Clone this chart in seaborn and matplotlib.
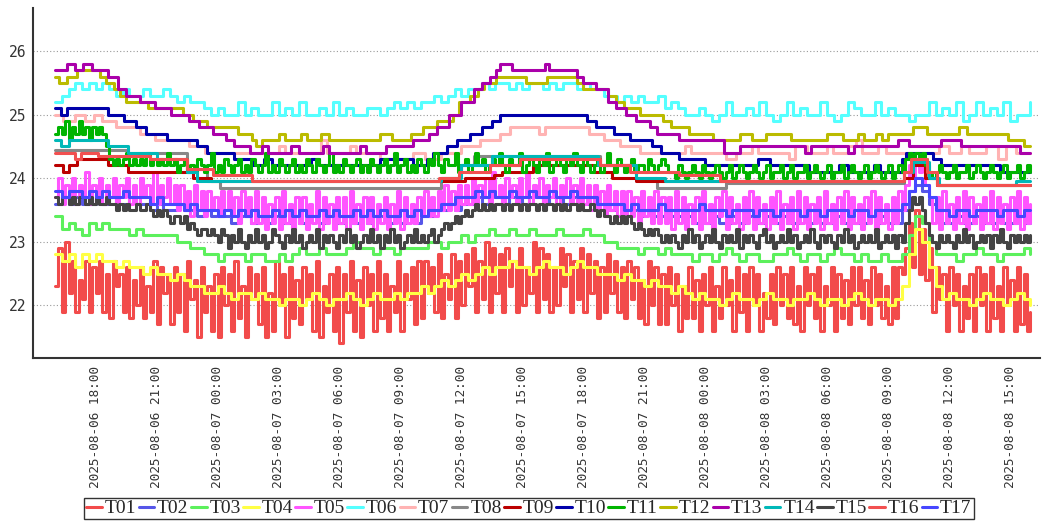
import numpy as np
import pandas as pd
import matplotlib
matplotlib.use('Agg')
import matplotlib.pyplot as plt
import matplotlib.dates as mdates
import seaborn as sns

start = pd.Timestamp('2025-08-06 16:00')
span_hours = 48

# very noisy sensors: one reading every 10 minutes (289 readings, 12 per row = 2 h)
T01 = [22.3, 22.9, 21.9, 23.0, 22.2, 22.7, 21.9, 22.4, 22.1, 22.7, 21.9, 22.6,
       22.2, 22.7, 21.9, 22.5, 21.8, 22.7, 22.3, 22.5, 21.9, 22.6, 21.8, 22.4,
       22.0, 22.6, 21.8, 22.3, 21.9, 22.7, 21.7, 22.6, 22.2, 22.5, 21.7, 22.6,
       21.9, 22.5, 21.6, 22.7, 22.1, 22.4, 21.5, 22.6, 21.9, 22.3, 21.6, 22.5,
       21.5, 22.6, 22.0, 22.5, 21.6, 22.7, 21.8, 22.3, 21.5, 22.6, 22.1, 22.5,
       21.7, 22.6, 21.5, 22.2, 21.6, 22.7, 22.0, 22.5, 21.5, 22.6, 21.8, 22.4,
       21.7, 22.6, 22.1, 22.5, 21.6, 22.7, 21.5, 22.3, 21.9, 22.5, 21.6, 22.6,
       21.4, 22.5, 21.9, 22.7, 21.6, 22.4, 21.5, 22.6, 22.0, 22.5, 21.6, 22.7,
       21.8, 22.5, 21.6, 22.3, 21.9, 22.7, 21.6, 22.5, 22.1, 22.6, 21.7, 22.7,
       21.8, 22.7, 22.2, 22.6, 21.9, 22.8, 21.8, 22.5, 22.1, 22.8, 21.8, 22.7,
       22.0, 22.8, 22.3, 22.9, 21.9, 22.7, 22.1, 23.0, 21.9, 22.9, 22.2, 22.8,
       21.9, 22.9, 22.3, 22.7, 21.9, 22.9, 22.0, 22.6, 22.2, 23.0, 21.9, 22.9,
       22.1, 22.8, 21.9, 22.6, 22.0, 22.9, 22.3, 22.8, 21.9, 22.7, 22.1, 22.9,
       21.9, 22.8, 22.2, 22.7, 21.8, 22.6, 21.9, 22.8, 22.2, 22.7, 21.9, 22.6,
       21.8, 22.7, 22.1, 22.6, 21.8, 22.4, 21.7, 22.7, 22.0, 22.6, 21.7, 22.5,
       21.7, 22.6, 22.0, 22.5, 21.6, 22.3, 21.8, 22.6, 21.8, 22.4, 21.6, 22.5,
       22.0, 22.6, 21.6, 22.3, 21.8, 22.6, 22.0, 22.4, 21.6, 22.6, 21.9, 22.5,
       21.6, 22.6, 22.0, 22.5, 21.6, 22.2, 21.8, 22.5, 21.7, 22.6, 22.0, 22.5,
       21.8, 22.6, 21.7, 22.3, 21.6, 22.6, 22.0, 22.5, 21.8, 22.6, 21.6, 22.3,
       22.0, 22.6, 21.6, 22.5, 21.8, 22.4, 21.7, 22.6, 22.0, 22.6, 21.8, 22.4,
       21.7, 22.6, 22.0, 22.5, 21.8, 22.3, 21.7, 22.6, 21.8, 22.6, 22.5, 22.9,
       23.3, 22.6, 23.5, 22.5, 23.2, 22.4, 22.9, 21.9, 22.6, 22.1, 22.5, 21.6,
       22.6, 22.0, 22.5, 21.6, 22.3, 21.8, 22.5, 21.6, 22.6, 22.0, 22.5, 21.6,
       22.6, 21.8, 22.3, 21.6, 22.6, 22.0, 22.4, 21.6, 22.6, 21.7, 22.5, 21.6,
       21.9]
T05 = [23.7, 24.0, 23.6, 23.9, 23.7, 24.0, 23.6, 23.9, 23.7, 24.1, 23.6, 23.9,
       23.7, 24.0, 23.6, 23.9, 23.7, 24.0, 23.6, 23.9, 23.7, 24.0, 23.6, 23.9,
       23.6, 24.0, 23.7, 23.9, 23.6, 24.1, 23.6, 23.9, 23.7, 24.0, 23.6, 23.9,
       23.5, 23.9, 23.5, 23.8, 23.4, 23.9, 23.5, 23.8, 23.4, 23.8, 23.5, 23.7,
       23.4, 23.8, 23.5, 23.8, 23.4, 23.7, 23.3, 23.8, 23.4, 23.7, 23.3, 23.8,
       23.3, 23.7, 23.2, 23.6, 23.3, 23.7, 23.2, 23.8, 23.3, 23.6, 23.2, 23.7,
       23.3, 23.7, 23.2, 23.6, 23.3, 23.8, 23.2, 23.7, 23.3, 23.6, 23.2, 23.7,
       23.3, 23.7, 23.2, 23.8, 23.3, 23.6, 23.2, 23.7, 23.3, 23.7, 23.2, 23.6,
       23.3, 23.7, 23.2, 23.6, 23.3, 23.8, 23.2, 23.7, 23.3, 23.6, 23.3, 23.7,
       23.4, 23.8, 23.4, 23.7, 23.4, 23.8, 23.5, 23.9, 23.5, 23.8, 23.5, 23.9,
       23.6, 23.9, 23.6, 24.0, 23.6, 23.9, 23.7, 24.0, 23.6, 24.1, 23.7, 23.9,
       23.6, 24.0, 23.7, 23.9, 23.6, 24.0, 23.7, 24.1, 23.6, 23.9, 23.7, 24.0,
       23.6, 23.9, 23.7, 24.0, 23.6, 23.9, 23.7, 24.0, 23.6, 23.9, 23.6, 24.0,
       23.6, 23.9, 23.5, 23.9, 23.5, 23.8, 23.4, 23.9, 23.5, 23.8, 23.4, 23.8,
       23.4, 23.8, 23.4, 23.7, 23.3, 23.8, 23.4, 23.7, 23.3, 23.8, 23.3, 23.7,
       23.3, 23.7, 23.2, 23.8, 23.3, 23.7, 23.2, 23.6, 23.3, 23.7, 23.2, 23.8,
       23.3, 23.6, 23.2, 23.7, 23.4, 23.8, 23.2, 23.7, 23.3, 23.6, 23.2, 23.7,
       23.3, 23.8, 23.2, 23.7, 23.3, 23.6, 23.2, 23.7, 23.3, 23.8, 23.2, 23.6,
       23.3, 23.7, 23.2, 23.8, 23.3, 23.7, 23.2, 23.6, 23.3, 23.7, 23.2, 23.8,
       23.3, 23.6, 23.2, 23.7, 23.3, 23.8, 23.2, 23.7, 23.3, 23.6, 23.2, 23.7,
       23.3, 23.8, 23.2, 23.7, 23.3, 23.6, 23.2, 23.7, 23.3, 23.8, 23.5, 23.9,
       24.2, 24.0, 24.3, 24.1, 24.2, 23.9, 23.7, 23.3, 23.7, 23.2, 23.8, 23.3,
       23.6, 23.2, 23.7, 23.3, 23.8, 23.2, 23.7, 23.3, 23.6, 23.2, 23.7, 23.3,
       23.8, 23.2, 23.7, 23.3, 23.6, 23.2, 23.7, 23.3, 23.8, 23.2, 23.7, 23.3,
       23.6]
T11 = [24.7, 24.8, 24.7, 24.9, 24.6, 24.8, 24.7, 24.9, 24.7, 24.8, 24.6, 24.8,
       24.7, 24.8, 24.7, 24.5, 24.3, 24.2, 24.3, 24.2, 24.3, 24.4, 24.2, 24.3,
       24.2, 24.3, 24.2, 24.4, 24.2, 24.3, 24.2, 24.3, 24.2, 24.4, 24.2, 24.3,
       24.1, 24.2, 24.3, 24.1, 24.2, 24.1, 24.3, 24.2, 24.1, 24.2, 24.4, 24.1,
       24.2, 24.1, 24.3, 24.2, 24.1, 24.2, 24.3, 24.1, 24.2, 24.1, 24.3, 24.2,
       24.1, 24.2, 24.4, 24.1, 24.2, 24.1, 24.3, 24.2, 24.1, 24.2, 24.3, 24.1,
       24.2, 24.1, 24.3, 24.2, 24.1, 24.3, 24.2, 24.1, 24.2, 24.4, 24.1, 24.2,
       24.1, 24.3, 24.2, 24.1, 24.2, 24.3, 24.1, 24.2, 24.1, 24.3, 24.2, 24.1,
       24.2, 24.3, 24.1, 24.2, 24.4, 24.1, 24.2, 24.3, 24.1, 24.2, 24.1, 24.3,
       24.2, 24.1, 24.3, 24.2, 24.4, 24.2, 24.1, 24.3, 24.2, 24.2, 24.4, 24.1,
       24.2, 24.3, 24.1, 24.2, 24.4, 24.2, 24.3, 24.1, 24.2, 24.3, 24.2, 24.4,
       24.2, 24.1, 24.3, 24.2, 24.2, 24.4, 24.1, 24.2, 24.3, 24.2, 24.1, 24.3,
       24.2, 24.4, 24.1, 24.2, 24.3, 24.2, 24.1, 24.3, 24.2, 24.4, 24.2, 24.1,
       24.3, 24.2, 24.1, 24.2, 24.3, 24.1, 24.2, 24.4, 24.2, 24.1, 24.3, 24.2,
       24.1, 24.2, 24.3, 24.1, 24.2, 24.2, 24.1, 24.3, 24.2, 24.1, 24.2, 24.3,
       24.2, 24.1, 24.1, 24.0, 24.2, 24.1, 24.0, 24.1, 24.2, 24.1, 24.0, 24.2,
       24.1, 24.0, 24.1, 24.2, 24.1, 24.0, 24.1, 24.2, 24.0, 24.1, 24.2, 24.1,
       24.0, 24.1, 24.2, 24.1, 24.0, 24.1, 24.2, 24.0, 24.1, 24.1, 24.2, 24.0,
       24.1, 24.2, 24.0, 24.1, 24.1, 24.2, 24.0, 24.1, 24.2, 24.1, 24.0, 24.1,
       24.2, 24.0, 24.1, 24.1, 24.2, 24.0, 24.1, 24.2, 24.1, 24.0, 24.1, 24.2,
       24.0, 24.1, 24.2, 24.1, 24.0, 24.1, 24.2, 24.0, 24.1, 24.2, 24.1, 24.3,
       24.4, 24.3, 24.4, 24.3, 24.4, 24.2, 24.1, 24.0, 24.1, 24.2, 24.1, 24.0,
       24.1, 24.2, 24.0, 24.1, 24.1, 24.2, 24.0, 24.1, 24.2, 24.1, 24.0, 24.1,
       24.2, 24.1, 24.0, 24.1, 24.2, 24.0, 24.1, 24.1, 24.2, 24.0, 24.1, 24.2,
       24.1]
T15 = [23.7, 23.6, 23.7, 23.7, 23.6, 23.7, 23.6, 23.7, 23.7, 23.6, 23.7, 23.6,
       23.7, 23.6, 23.6, 23.7, 23.6, 23.6, 23.5, 23.6, 23.5, 23.6, 23.5, 23.5,
       23.6, 23.5, 23.5, 23.6, 23.5, 23.4, 23.5, 23.4, 23.5, 23.4, 23.3, 23.4,
       23.4, 23.3, 23.4, 23.2, 23.3, 23.2, 23.1, 23.2, 23.2, 23.1, 23.2, 23.1,
       23.0, 23.2, 23.1, 22.9, 23.1, 23.0, 23.2, 23.0, 22.9, 23.1, 23.0, 23.2,
       23.0, 23.1, 22.9, 23.0, 23.2, 23.1, 23.0, 22.9, 23.1, 23.0, 23.2, 23.0,
       23.1, 22.9, 23.0, 23.1, 23.0, 23.2, 22.9, 23.1, 23.0, 23.1, 23.0, 22.9,
       23.1, 23.0, 23.2, 23.0, 23.1, 22.9, 23.0, 23.1, 23.0, 23.2, 23.0, 23.1,
       22.9, 23.1, 23.0, 23.2, 23.0, 23.1, 22.9, 23.0, 23.1, 23.0, 23.2, 23.0,
       23.1, 23.0, 23.1, 23.2, 23.0, 23.1, 23.2, 23.3, 23.2, 23.3, 23.4, 23.3,
       23.4, 23.5, 23.4, 23.5, 23.6, 23.5, 23.6, 23.5, 23.6, 23.5, 23.6, 23.6,
       23.5, 23.6, 23.5, 23.6, 23.6, 23.5, 23.6, 23.5, 23.6, 23.6, 23.5, 23.6,
       23.5, 23.6, 23.6, 23.5, 23.6, 23.5, 23.6, 23.5, 23.6, 23.6, 23.5, 23.6,
       23.5, 23.5, 23.6, 23.5, 23.4, 23.5, 23.4, 23.4, 23.3, 23.4, 23.3, 23.4,
       23.3, 23.4, 23.3, 23.2, 23.3, 23.2, 23.1, 23.2, 23.1, 23.2, 23.1, 23.0,
       23.1, 23.0, 23.1, 23.0, 22.9, 23.1, 23.0, 23.2, 23.0, 23.1, 22.9, 23.0,
       23.1, 23.0, 23.2, 23.0, 22.9, 23.1, 23.0, 23.1, 23.0, 23.2, 22.9, 23.1,
       23.0, 23.1, 23.0, 22.9, 23.1, 23.2, 23.0, 23.1, 22.9, 23.0, 23.1, 23.0,
       23.2, 23.0, 23.1, 22.9, 23.0, 23.1, 23.0, 23.2, 23.0, 22.9, 23.1, 23.0,
       23.1, 23.0, 22.9, 23.1, 23.0, 23.2, 23.0, 23.1, 22.9, 23.0, 23.1, 23.0,
       23.1, 23.0, 23.2, 22.9, 23.0, 23.1, 23.0, 23.1, 22.9, 23.1, 23.0, 23.3,
       23.5, 23.7, 23.6, 23.7, 23.5, 23.3, 23.1, 23.0, 22.9, 23.1, 23.0, 23.1,
       23.0, 22.9, 23.1, 23.0, 23.2, 23.0, 23.1, 22.9, 23.0, 23.1, 23.0, 23.1,
       22.9, 23.1, 23.0, 23.2, 23.0, 22.9, 23.1, 23.0, 23.1, 23.0, 23.1, 23.0,
       23.1]

# other noisy sensors: one reading every 20 minutes (145 readings)
T02 = [23.6, 23.7, 23.6, 23.7, 23.6, 23.6, 23.7, 23.6, 23.7, 23.6,
       23.6, 23.7, 23.6, 23.6, 23.5, 23.6, 23.5, 23.5, 23.6, 23.5,
       23.5, 23.4, 23.5, 23.4, 23.4, 23.4, 23.3, 23.4, 23.4, 23.3,
       23.4, 23.3, 23.4, 23.3, 23.3, 23.4, 23.3, 23.4, 23.4, 23.3,
       23.4, 23.3, 23.3, 23.4, 23.3, 23.4, 23.3, 23.4, 23.4, 23.3,
       23.4, 23.3, 23.4, 23.3, 23.4, 23.4, 23.5, 23.5, 23.6, 23.5,
       23.6, 23.6, 23.7, 23.6, 23.7, 23.7, 23.6, 23.7, 23.7, 23.6,
       23.7, 23.7, 23.6, 23.7, 23.7, 23.6, 23.7, 23.7, 23.6, 23.7,
       23.6, 23.6, 23.5, 23.6, 23.5, 23.5, 23.4, 23.5, 23.4, 23.4,
       23.5, 23.4, 23.4, 23.4, 23.3, 23.4, 23.3, 23.4, 23.3, 23.3,
       23.4, 23.3, 23.4, 23.3, 23.3, 23.4, 23.3, 23.4, 23.3, 23.3,
       23.4, 23.3, 23.4, 23.3, 23.3, 23.4, 23.3, 23.4, 23.3, 23.3,
       23.4, 23.3, 23.4, 23.3, 23.3, 23.5, 23.8, 23.9, 23.8, 23.6,
       23.4, 23.3, 23.3, 23.4, 23.3, 23.3, 23.4, 23.3, 23.3, 23.4,
       23.3, 23.3, 23.4, 23.3, 23.3]
T03 = [23.4, 23.2, 23.3, 23.2, 23.1, 23.3, 23.2, 23.3, 23.2, 23.2,
       23.2, 23.1, 23.2, 23.1, 23.1, 23.1, 23.1, 23.1, 23.0, 23.0,
       22.9, 22.9, 22.8, 22.8, 22.7, 22.8, 22.8, 22.8, 22.7, 22.8,
       22.8, 22.7, 22.7, 22.8, 22.7, 22.8, 22.9, 22.8, 22.8, 22.9,
       22.8, 22.8, 22.8, 22.9, 23.0, 22.9, 22.9, 22.8, 22.9, 22.9,
       22.8, 22.9, 22.9, 22.9, 22.9, 23.0, 23.0, 22.9, 23.0, 23.0,
       23.1, 23.0, 23.1, 23.1, 23.2, 23.1, 23.1, 23.2, 23.1, 23.1,
       23.2, 23.1, 23.1, 23.1, 23.2, 23.1, 23.1, 23.1, 23.2, 23.1,
       23.1, 23.0, 23.0, 22.9, 22.9, 22.9, 22.8, 22.9, 22.9, 22.8,
       22.9, 22.8, 22.8, 22.8, 22.7, 22.8, 22.8, 22.7, 22.8, 22.9,
       22.8, 22.7, 22.8, 22.8, 22.7, 22.7, 22.8, 22.8, 22.9, 22.8,
       22.7, 22.8, 22.8, 22.7, 22.8, 22.9, 22.8, 22.8, 22.7, 22.8,
       22.7, 22.7, 22.8, 22.7, 22.7, 22.8, 23.1, 23.4, 23.3, 23.0,
       22.8, 22.8, 22.8, 22.7, 22.8, 22.8, 22.9, 22.8, 22.8, 22.7,
       22.8, 22.8, 22.8, 22.9, 22.8]
T04 = [22.8, 22.7, 22.8, 22.6, 22.8, 22.7, 22.8, 22.7, 22.7, 22.6,
       22.7, 22.6, 22.6, 22.5, 22.6, 22.5, 22.5, 22.4, 22.5, 22.4,
       22.3, 22.3, 22.2, 22.2, 22.3, 22.2, 22.1, 22.2, 22.2, 22.1,
       22.2, 22.1, 22.1, 22.0, 22.1, 22.1, 22.0, 22.1, 22.2, 22.1,
       22.0, 22.1, 22.1, 22.2, 22.1, 22.0, 22.1, 22.2, 22.1, 22.1,
       22.2, 22.1, 22.2, 22.2, 22.3, 22.2, 22.3, 22.4, 22.3, 22.4,
       22.5, 22.4, 22.5, 22.6, 22.5, 22.6, 22.6, 22.7, 22.6, 22.6,
       22.5, 22.6, 22.7, 22.6, 22.6, 22.5, 22.6, 22.7, 22.6, 22.6,
       22.5, 22.5, 22.5, 22.4, 22.5, 22.4, 22.4, 22.3, 22.4, 22.3,
       22.3, 22.2, 22.3, 22.2, 22.1, 22.2, 22.1, 22.1, 22.0, 22.1,
       22.2, 22.1, 22.1, 22.0, 22.1, 22.2, 22.1, 22.1, 22.0, 22.1,
       22.1, 22.2, 22.1, 22.0, 22.1, 22.1, 22.0, 22.1, 22.2, 22.1,
       22.0, 22.1, 22.1, 22.0, 22.1, 22.3, 22.8, 23.2, 23.0, 22.6,
       22.3, 22.1, 22.2, 22.1, 22.1, 22.0, 22.1, 22.2, 22.1, 22.1,
       22.0, 22.1, 22.2, 22.1, 22.0]
T06 = [25.2, 25.3, 25.4, 25.5, 25.4, 25.5, 25.4, 25.5, 25.4, 25.3,
       25.4, 25.3, 25.3, 25.4, 25.3, 25.3, 25.4, 25.3, 25.2, 25.3,
       25.2, 25.2, 25.1, 25.0, 25.1, 25.0, 25.0, 25.2, 25.0, 25.1,
       25.0, 25.0, 25.2, 25.0, 25.1, 25.0, 25.2, 25.0, 25.0, 25.1,
       25.0, 25.2, 25.0, 25.1, 25.0, 25.0, 25.1, 25.1, 25.0, 25.1,
       25.2, 25.1, 25.2, 25.1, 25.2, 25.2, 25.3, 25.2, 25.3, 25.4,
       25.3, 25.4, 25.4, 25.5, 25.4, 25.5, 25.5, 25.4, 25.5, 25.4,
       25.5, 25.5, 25.4, 25.5, 25.4, 25.5, 25.5, 25.4, 25.5, 25.4,
       25.4, 25.3, 25.3, 25.2, 25.3, 25.2, 25.3, 25.2, 25.2, 25.3,
       25.1, 25.2, 25.1, 25.0, 25.0, 25.1, 25.0, 24.9, 25.0, 25.2,
       25.0, 25.0, 25.1, 25.0, 25.2, 25.0, 24.9, 25.0, 25.2, 25.0,
       25.1, 25.0, 25.0, 25.2, 25.0, 24.9, 25.0, 25.2, 25.1, 25.0,
       25.0, 25.2, 25.0, 25.1, 25.0, 25.0, 24.9, 25.0, 25.0, 25.2,
       25.0, 25.1, 25.0, 25.2, 24.9, 25.0, 25.2, 25.0, 25.1, 25.0,
       25.2, 24.9, 25.0, 25.0, 25.2]
T17 = [23.8, 23.7, 23.8, 23.8, 23.7, 23.8, 23.7, 23.8, 23.7, 23.7,
       23.8, 23.7, 23.7, 23.7, 23.6, 23.7, 23.6, 23.6, 23.6, 23.5,
       23.6, 23.5, 23.5, 23.5, 23.4, 23.5, 23.4, 23.5, 23.4, 23.5,
       23.4, 23.4, 23.5, 23.4, 23.5, 23.4, 23.5, 23.4, 23.4, 23.5,
       23.4, 23.5, 23.4, 23.4, 23.5, 23.4, 23.5, 23.4, 23.5, 23.4,
       23.4, 23.5, 23.4, 23.5, 23.4, 23.5, 23.5, 23.6, 23.6, 23.7,
       23.7, 23.7, 23.8, 23.7, 23.8, 23.7, 23.7, 23.8, 23.7, 23.7,
       23.8, 23.7, 23.7, 23.8, 23.7, 23.7, 23.8, 23.7, 23.7, 23.7,
       23.6, 23.6, 23.6, 23.6, 23.5, 23.6, 23.5, 23.5, 23.5, 23.6,
       23.5, 23.5, 23.5, 23.5, 23.5, 23.6, 23.5, 23.5, 23.5, 23.4,
       23.5, 23.5, 23.5, 23.4, 23.5, 23.5, 23.4, 23.5, 23.5, 23.5,
       23.4, 23.5, 23.5, 23.4, 23.5, 23.5, 23.5, 23.4, 23.5, 23.5,
       23.4, 23.5, 23.5, 23.5, 23.5, 23.6, 23.8, 24.0, 23.9, 23.7,
       23.5, 23.5, 23.4, 23.5, 23.5, 23.4, 23.5, 23.5, 23.5, 23.4,
       23.5, 23.5, 23.4, 23.5, 23.5]

# stepped sensors: (hours after start, reading) at each change
T07 = [(0, 25.0), (0.4, 24.9), (1.0, 25.0), (1.5, 24.9), (1.9, 25.0), (2.3, 24.9),
       (3.0, 24.8), (4.2, 24.7), (4.9, 24.6), (6.6, 24.5), (7.4, 24.4), (11.0, 24.5),
       (11.3, 24.4), (13.1, 24.6), (13.4, 24.4), (14.5, 24.5), (14.8, 24.4), (16.0, 24.3),
       (17.6, 24.4), (18.2, 24.3), (19.0, 24.4), (20.0, 24.5), (20.9, 24.6), (21.9, 24.7),
       (22.4, 24.8), (23.8, 24.7), (24.1, 24.8), (26.3, 24.7), (27.0, 24.6), (27.8, 24.5),
       (28.8, 24.4), (31.0, 24.5), (31.3, 24.4), (33.0, 24.3), (33.5, 24.4), (34.3, 24.5),
       (34.6, 24.4), (36.1, 24.3), (36.4, 24.5), (37.0, 24.4), (38.0, 24.5), (38.3, 24.4),
       (39.0, 24.5), (39.4, 24.6), (39.7, 24.4), (40.5, 24.5), (40.9, 24.4), (43.5, 24.5),
       (44.0, 24.4), (44.6, 24.5), (45.0, 24.4), (45.8, 24.5), (46.4, 24.3), (46.8, 24.5),
       (47.3, 24.4), (48.0, 24.4)]
T08 = [(0, 24.45), (3.6, 24.4), (6.5, 24.15), (7.5, 23.95), (8.1, 23.85), (19.0, 24.0),
       (19.9, 24.2), (20.6, 24.35), (26.8, 24.2), (28.6, 24.0), (29.6, 23.85), (33.0, 23.93),
       (41.8, 24.1), (42.2, 24.3), (42.9, 24.0), (43.4, 23.9), (48.0, 23.9)]
T09 = [(0, 24.2), (0.4, 24.1), (0.7, 24.2), (1.1, 24.3), (2.6, 24.2), (3.6, 24.1),
       (6.8, 24.0), (7.7, 23.95), (20.2, 24.0), (21.6, 24.05), (22.0, 24.1),
       (23.5, 24.2), (26.5, 24.1), (27.4, 24.0), (28.6, 23.95), (41.8, 24.0),
       (42.2, 24.2), (42.8, 24.0), (43.4, 23.9), (48.0, 23.9)]
T10 = [(0, 25.1), (0.3, 25.0), (0.6, 25.1), (2.6, 25.0), (3.4, 24.9), (4.0, 24.8),
       (4.5, 24.7), (5.5, 24.6), (7.0, 24.5), (7.5, 24.4), (8.8, 24.3), (9.7, 24.2),
       (10.3, 24.3), (10.7, 24.2), (12.6, 24.3), (13.0, 24.2), (16.0, 24.3), (17.6, 24.2),
       (18.3, 24.3), (18.6, 24.4), (19.3, 24.5), (19.8, 24.6), (20.4, 24.7), (21.0, 24.8),
       (21.5, 24.9), (21.9, 25.0), (26.2, 24.9), (26.6, 24.8), (27.5, 24.7), (28.3, 24.6),
       (29.4, 24.5), (29.8, 24.4), (30.7, 24.3), (32.0, 24.2), (34.6, 24.3), (35.2, 24.2),
       (37.1, 24.1), (38.6, 24.2), (39.0, 24.1), (40.3, 24.2), (40.6, 24.1), (41.7, 24.3),
       (41.9, 24.4), (43.2, 24.3), (43.6, 24.2), (46.5, 24.1), (48.0, 24.1)]
T12 = [(0, 25.6), (0.2, 25.5), (0.6, 25.6), (1.1, 25.7), (2.2, 25.6), (2.5, 25.5),
       (2.9, 25.4), (3.2, 25.3), (3.5, 25.2), (4.6, 25.1), (6.3, 25.0), (6.8, 24.9),
       (7.5, 24.8), (9.0, 24.7), (9.7, 24.6), (9.9, 24.5), (10.2, 24.6), (11.0, 24.7),
       (11.3, 24.6), (12.1, 24.7), (12.4, 24.6), (13.1, 24.7), (13.5, 24.6), (16.0, 24.7),
       (16.6, 24.6), (17.5, 24.7), (18.1, 24.8), (18.8, 24.9), (19.6, 25.0), (19.9, 25.2),
       (20.4, 25.3), (20.8, 25.4), (21.1, 25.5), (21.7, 25.6), (23.2, 25.5), (24.2, 25.6),
       (25.7, 25.5), (26.0, 25.4), (27.2, 25.3), (27.6, 25.2), (28.0, 25.1), (28.8, 25.0),
       (29.9, 24.9), (30.3, 24.8), (31.2, 24.7), (32.4, 24.6), (33.7, 24.7), (34.3, 24.6),
       (35.0, 24.7), (36.2, 24.6), (38.0, 24.7), (38.8, 24.6), (39.5, 24.7), (39.8, 24.6),
       (40.4, 24.7), (40.7, 24.6), (41.0, 24.7), (42.2, 24.8), (42.9, 24.7), (44.5, 24.8),
       (44.9, 24.7), (46.9, 24.6), (47.7, 24.5), (48.0, 24.5)]
T13 = [(0, 25.7), (0.6, 25.8), (1.0, 25.7), (1.4, 25.8), (1.8, 25.7), (2.6, 25.6),
       (3.1, 25.4), (3.5, 25.3), (4.2, 25.2), (4.9, 25.1), (5.7, 25.0), (6.6, 24.9),
       (7.1, 24.8), (7.8, 24.7), (8.4, 24.6), (8.8, 24.5), (9.6, 24.4), (10.2, 24.5),
       (10.5, 24.4), (11.6, 24.5), (12.0, 24.4), (13.2, 24.5), (13.5, 24.4), (15.0, 24.5),
       (15.3, 24.4), (16.3, 24.5), (17.6, 24.6), (18.4, 24.7), (18.8, 24.8), (19.4, 25.0),
       (20.0, 25.2), (20.6, 25.4), (21.0, 25.5), (21.4, 25.6), (21.7, 25.7), (21.9, 25.8),
       (22.5, 25.7), (24.1, 25.8), (24.3, 25.7), (25.7, 25.6), (26.0, 25.5), (26.6, 25.4),
       (27.2, 25.2), (27.6, 25.1), (28.1, 25.0), (28.6, 24.9), (29.3, 24.8), (29.6, 24.7),
       (30.7, 24.6), (32.9, 24.4), (33.7, 24.5), (36.9, 24.4), (37.2, 24.5), (39.0, 24.4),
       (39.3, 24.5), (41.5, 24.6), (42.0, 24.5), (43.6, 24.6), (44.6, 24.5), (47.5, 24.4),
       (48.0, 24.4)]
T14 = [(0, 24.6), (0.3, 24.5), (0.7, 24.6), (2.6, 24.5), (3.6, 24.4), (5.0, 24.3),
       (6.5, 24.1), (7.0, 23.95), (19.0, 24.0), (20.0, 24.2), (21.5, 24.35),
       (26.7, 24.2), (28.6, 24.0), (30.0, 23.95), (41.8, 24.1), (42.2, 24.25),
       (43.0, 24.0), (43.5, 23.9), (47.3, 23.95), (48.0, 23.95)]
T16 = [(0, 24.4), (1.0, 24.3), (1.3, 24.4), (2.1, 24.35), (4.7, 24.3), (6.5, 24.15),
       (7.8, 24.05), (9.7, 23.95), (18.9, 24.0), (19.9, 24.1), (21.4, 24.2), (22.9, 24.3),
       (26.8, 24.2), (28.3, 24.1), (30.7, 24.05), (32.7, 23.95), (41.8, 24.1), (42.1, 24.3),
       (42.9, 24.1), (43.4, 23.9), (48.0, 23.9)]

sensors = ['T01', 'T02', 'T03', 'T04', 'T05', 'T06', 'T07', 'T08', 'T09',
           'T10', 'T11', 'T12', 'T13', 'T14', 'T15', 'T16', 'T17']
colors = ['#f24b4b', '#5656e8', '#5cf05c', '#ffff44', '#ff55ff', '#55ffff',
          '#ffb3b3', '#888888', '#bb0000', '#0000aa', '#00b400', '#bbbb00',
          '#aa00aa', '#00b8b8', '#444444', '#f25050', '#4646ff']
series = {'T01': T01, 'T02': T02, 'T03': T03, 'T04': T04, 'T05': T05,
          'T06': T06, 'T07': T07, 'T08': T08, 'T09': T09, 'T10': T10,
          'T11': T11, 'T12': T12, 'T13': T13, 'T14': T14, 'T15': T15,
          'T16': T16, 'T17': T17}

frames = []
for name in sensors:
    data = series[name]
    if isinstance(data[0], tuple):
        hrs = [p[0] for p in data]
        vals = [p[1] for p in data]
    else:
        vals = data
        hrs = np.arange(len(data)) * span_hours / (len(data) - 1)
    times = start + pd.to_timedelta(hrs, unit='h')
    frames.append(pd.DataFrame({'time': times, 'temp': vals, 'sensor': name}))
df = pd.concat(frames, ignore_index=True)

sns.set_style('white')
plt.rcParams['font.family'] = ['DejaVu Sans Mono']

fig = plt.figure(figsize=(10.42, 5.25), dpi=100)
ax = fig.add_axes([0.0317, 0.318, 0.966, 0.667])

sns.lineplot(data=df, x='time', y='temp', hue='sensor', hue_order=sensors,
             palette=colors, estimator=None, drawstyle='steps-post',
             linewidth=2.2, legend=False, ax=ax)

ax.set_xlim(start - pd.Timedelta(hours=1.08), start + pd.Timedelta(hours=48.45))
ax.set_ylim(21.17, 26.68)
ax.set_yticks([22, 23, 24, 25, 26])
ax.set_xticks(pd.date_range('2025-08-06 18:00', '2025-08-08 15:00', freq='3h'))
ax.xaxis.set_major_formatter(mdates.DateFormatter('%Y-%m-%d %H:%M'))
plt.setp(ax.get_xticklabels(), rotation=90, ha='center', va='top')
ax.set_xlabel('')
ax.set_ylabel('')

ax.grid(axis='y', linestyle=(0, (1, 2)), color='#999999', linewidth=0.8)
ax.set_axisbelow(True)
for side in ['top', 'right']:
    ax.spines[side].set_visible(False)
for side in ['left', 'bottom']:
    ax.spines[side].set_color('#333333')
    ax.spines[side].set_linewidth(1.5)
ax.tick_params(axis='x', length=3, width=0.8, color='#777777', pad=3,
               labelsize=9.2, labelcolor='#333333')
ax.tick_params(axis='y', length=0, pad=5, labelsize=10.5, labelcolor='#333333')

fig.legend(ax.get_lines(), sensors, loc='center', bbox_to_anchor=(0.5077, 0.0314),
           ncol=17, frameon=True, fancybox=False, edgecolor='#333333', framealpha=1,
           prop={'family': 'Liberation Serif', 'size': 14},
           handlelength=0.8, handletextpad=0.15, columnspacing=0.12, borderpad=0.1)

plt.savefig('out.png', dpi=100)
